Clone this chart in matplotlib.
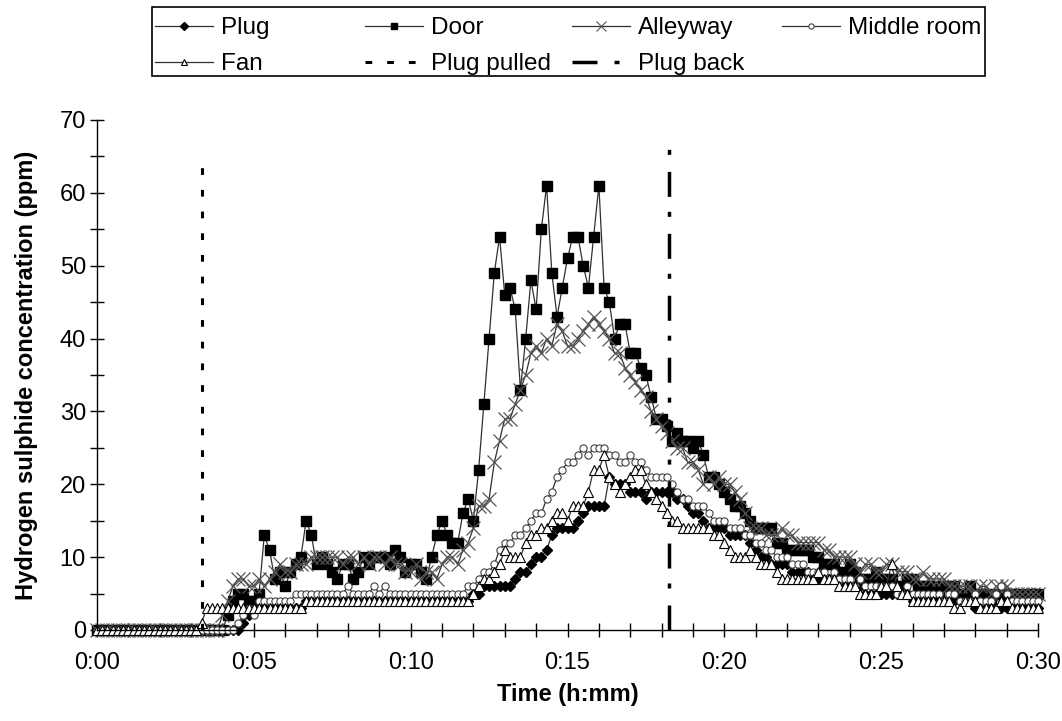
import numpy as np
import matplotlib
matplotlib.use('Agg')
import matplotlib.pyplot as plt
from matplotlib.lines import Line2D
from matplotlib.patches import Rectangle
from matplotlib.ticker import MultipleLocator, FuncFormatter

plt.rcParams['font.family'] = ['Liberation Sans', 'DejaVu Sans']

# readings every 10 s, 0:00 .. 0:30 (rows of 10 samples)
plug = [0, 0, 0, 0, 0, 0, 0, 0, 0, 0,
        0, 0, 0, 0, 0, 0, 0, 0, 0, 0,
        0, 0, 0, 0, 0, 0, 0, 0, 1, 2,
        3, 3, 3, 3, 3, 3, 3, 3, 3, 3,
        4, 4, 4, 4, 4, 4, 4, 4, 4, 4,
        4, 4, 4, 4, 4, 4, 4, 4, 4, 4,
        4, 4, 4, 4, 4, 4, 4, 4, 4, 4,
        4, 4, 5, 5, 6, 6, 6, 6, 6, 6,
        7, 8, 8, 9, 10, 10, 11, 13, 14, 14,
        14, 14, 15, 16, 17, 17, 17, 17, 21, 20,
        20, 20, 19, 19, 19, 18, 19, 19, 19, 19,
        19, 18, 18, 17, 16, 16, 15, 14, 14, 14,
        14, 13, 13, 13, 13, 12, 11, 10, 10, 9,
        9, 9, 9, 8, 8, 8, 8, 7, 7, 7,
        7, 7, 7, 6, 6, 6, 6, 5, 5, 5,
        5, 5, 5, 5, 5, 5, 4, 4, 4, 4,
        4, 4, 4, 4, 4, 4, 4, 4, 3, 3,
        3, 4, 3, 3, 3, 3, 3, 3, 3, 3,
        3]

door = [0, 0, 0, 0, 0, 0, 0, 0, 0, 0,
        0, 0, 0, 0, 0, 0, 0, 0, 0, 0,
        0, 0, 0, 0, 0, 2, 4, 5, 5, 4,
        4, 5, 13, 11, 7, 8, 6, 8, 9, 10,
        15, 13, 9, 10, 9, 8, 7, 9, 9, 7,
        8, 10, 9, 10, 10, 10, 9, 11, 10, 8,
        9, 9, 8, 7, 10, 13, 15, 13, 12, 12,
        16, 18, 15, 22, 31, 40, 49, 54, 46, 47,
        44, 33, 40, 48, 44, 55, 61, 49, 43, 47,
        51, 54, 54, 50, 47, 54, 61, 47, 45, 40,
        42, 42, 38, 38, 36, 35, 32, 29, 29, 28,
        26, 27, 26, 26, 25, 26, 24, 21, 21, 20,
        19, 18, 17, 17, 16, 15, 14, 14, 14, 14,
        12, 12, 11, 11, 11, 11, 11, 10, 10, 9,
        9, 9, 8, 8, 9, 8, 7, 7, 7, 8,
        7, 7, 7, 6, 6, 7, 7, 6, 6, 6,
        6, 5, 6, 6, 6, 5, 5, 6, 5, 5,
        5, 4, 5, 5, 4, 5, 5, 4, 5, 5,
        5]

alleyway = [0, 0, 0, 0, 0, 0, 0, 0, 0, 0,
            0, 0, 0, 0, 0, 0, 0, 0, 0, 0,
            0, 0, 0, 0, 2, 4, 6, 7, 7, 6,
            6, 7, 6, 7, 8, 9, 8, 8, 9, 9,
            9, 10, 10, 10, 10, 10, 10, 9, 10, 10,
            9, 10, 9, 10, 10, 9, 10, 9, 9, 8,
            8, 9, 7, 8, 8, 7, 9, 10, 10, 9,
            11, 12, 14, 17, 17, 18, 23, 26, 29, 29,
            31, 33, 35, 38, 39, 38, 40, 39, 42, 41,
            39, 39, 40, 41, 42, 43, 42, 41, 40, 38,
            38, 36, 35, 34, 33, 32, 30, 29, 28, 27,
            26, 25, 25, 23, 23, 22, 20, 21, 20, 21,
            20, 20, 19, 18, 16, 14, 14, 14, 13, 13,
            13, 14, 13, 13, 12, 12, 12, 12, 12, 11,
            11, 10, 10, 10, 10, 9, 8, 9, 9, 8,
            8, 9, 9, 8, 8, 8, 7, 7, 8, 7,
            7, 7, 7, 6, 6, 6, 6, 6, 5, 6,
            6, 5, 6, 6, 6, 5, 5, 5, 5, 5,
            5]

middle_room = [0, 0, 0, 0, 0, 0, 0, 0, 0, 0,
               0, 0, 0, 0, 0, 0, 0, 0, 0, 0,
               0, 0, 0, 0, 0, 0, 0, 1, 2, 3,
               2, 4, 4, 4, 4, 4, 4, 4, 5, 5,
               5, 5, 5, 5, 5, 5, 5, 5, 6, 5,
               5, 5, 5, 6, 5, 6, 5, 5, 5, 5,
               5, 5, 5, 5, 5, 5, 5, 5, 5, 5,
               5, 6, 6, 7, 8, 8, 9, 11, 12, 12,
               13, 13, 14, 15, 16, 16, 18, 19, 21, 22,
               23, 23, 24, 25, 24, 25, 25, 25, 24, 24,
               23, 23, 24, 23, 23, 22, 21, 21, 21, 21,
               20, 19, 18, 18, 17, 17, 17, 16, 15, 15,
               15, 14, 14, 14, 13, 13, 12, 12, 11, 11,
               10, 10, 10, 9, 9, 9, 8, 8, 8, 8,
               7, 8, 7, 7, 7, 6, 7, 6, 6, 6,
               6, 6, 6, 5, 5, 6, 5, 5, 5, 5,
               5, 5, 4, 5, 5, 4, 4, 4, 5, 4,
               4, 4, 5, 6, 5, 4, 4, 4, 4, 4,
               4]

fan = [0, 0, 0, 0, 0, 0, 0, 0, 0, 0,
       0, 0, 0, 0, 0, 0, 0, 0, 0, 0,
       1, 3, 3, 3, 3, 3, 3, 3, 3, 3,
       3, 3, 3, 3, 3, 3, 3, 3, 3, 3,
       4, 4, 4, 4, 4, 4, 4, 4, 4, 4,
       4, 4, 4, 4, 4, 4, 4, 4, 4, 4,
       4, 4, 4, 4, 4, 4, 4, 4, 4, 4,
       4, 4, 5, 6, 7, 7, 8, 9, 11, 10,
       10, 10, 12, 13, 13, 14, 14, 15, 16, 16,
       15, 17, 17, 17, 19, 22, 22, 24, 21, 20,
       19, 20, 21, 22, 22, 20, 19, 18, 17, 16,
       15, 15, 14, 14, 14, 14, 14, 14, 13, 13,
       12, 11, 10, 10, 10, 11, 10, 9, 9, 9,
       8, 7, 7, 7, 7, 7, 7, 7, 8, 7,
       7, 7, 6, 6, 6, 6, 5, 5, 5, 5,
       6, 6, 9, 6, 5, 5, 4, 4, 4, 4,
       4, 4, 4, 4, 3, 3, 4, 4, 4, 3,
       3, 3, 3, 4, 4, 3, 3, 3, 3, 3,
       3]

plug_pulled_min = 3 + 20 / 60
plug_back_min = 18 + 15 / 60
event_top = [64, 66]

minutes = np.arange(len(plug)) / 6.0

W, H = 1062, 721
fig = plt.figure(figsize=(W / 100, H / 100), dpi=100)
ax = fig.add_axes([97 / W, 1 - 630 / H, (1038 - 97) / W, (630 - 120) / H])

line_kw = dict(color='#303030', lw=0.9, clip_on=False)
series = [
    ('Plug', plug, dict(marker='D', ms=5.5, mfc='black', mec='black')),
    ('Door', door, dict(marker='s', ms=6.5, mfc='black', mec='black')),
    ('Alleyway', alleyway, dict(marker='x', ms=10.5, mec='#555555', mew=0.9)),
    ('Middle room', middle_room, dict(marker='o', ms=5.2, mfc='white', mec='#404040', mew=0.8)),
    ('Fan', fan, dict(marker='^', ms=7, mfc='white', mec='black', mew=0.8)),
]
for name, vals, mk in series:
    ax.plot(minutes, vals, **line_kw, **mk)

pulled_style = dict(color='black', lw=2.2, dashes=(2.2, 4.9))
back_style = dict(color='black', lw=2.5, dashes=(7.2, 4.9, 1.44, 4.3))
ax.plot([plug_pulled_min, plug_pulled_min], [0, event_top[0]], **pulled_style)
ax.plot([plug_back_min, plug_back_min], [0, event_top[1]], **back_style)

ax.set_xlim(0, 30)
ax.set_ylim(0, 70)
ax.xaxis.set_major_locator(MultipleLocator(5))
ax.xaxis.set_minor_locator(MultipleLocator(1))
ax.yaxis.set_major_locator(MultipleLocator(10))
ax.yaxis.set_minor_locator(MultipleLocator(5))
ax.xaxis.set_major_formatter(FuncFormatter(lambda v, p: f"{int(round(v)) // 60}:{int(round(v)) % 60:02d}"))
ax.tick_params(axis='both', which='both', direction='inout', length=10, width=1, labelsize=17)
ax.tick_params(axis='x', pad=11)
ax.tick_params(axis='y', pad=3)
for s in ['top', 'right']:
    ax.spines[s].set_visible(False)
for s in ['left', 'bottom']:
    ax.spines[s].set_linewidth(1)

ax.set_ylabel('Hydrogen sulphide concentration (ppm)', fontsize=17, fontweight='bold')
ax.set_xlabel('Time (h:mm)', fontsize=17, fontweight='bold')
ax.yaxis.set_label_coords(-0.0627, 0.5)
ax.xaxis.set_label_coords(0.5, -0.103)

# legend: 4 columns, Excel-like equal column widths
leg_kw = dict(color='#303030', lw=0.9)
handles = {
    'Plug': Line2D([], [], marker='D', ms=3.8, mfc='black', mec='black', **leg_kw),
    'Door': Line2D([], [], marker='s', ms=4.2, mfc='black', mec='black', **leg_kw),
    'Alleyway': Line2D([], [], marker='x', ms=7.5, mec='#555555', mew=0.8, **leg_kw),
    'Middle room': Line2D([], [], marker='o', ms=3.8, mfc='white', mec='#404040', mew=0.8, **leg_kw),
    'Fan': Line2D([], [], marker='^', ms=5, mfc='white', mec='black', mew=0.8, **leg_kw),
    'Plug pulled': Line2D([], [], **pulled_style),
    'Plug back': Line2D([], [], **back_style),
}
columns = [['Plug', 'Fan'], ['Door', 'Plug pulled'], ['Alleyway', 'Plug back'], ['Middle room']]
col_x = [155, 365, 572, 782]
for names, x in zip(columns, col_x):
    fig.legend([handles[n] for n in names], names, loc='upper left',
               bbox_to_anchor=(x / W, 1 - 17 / H), frameon=False, borderpad=0,
               borderaxespad=0, handlelength=2.4, handletextpad=0.33,
               labelspacing=0.58, fontsize=17.5)
fig.add_artist(Rectangle((152 / W, 1 - 76 / H), 833 / W, 69 / H, transform=fig.transFigure,
                         fill=False, edgecolor='black', lw=1.2))

fig.savefig('out.png', dpi=100)
